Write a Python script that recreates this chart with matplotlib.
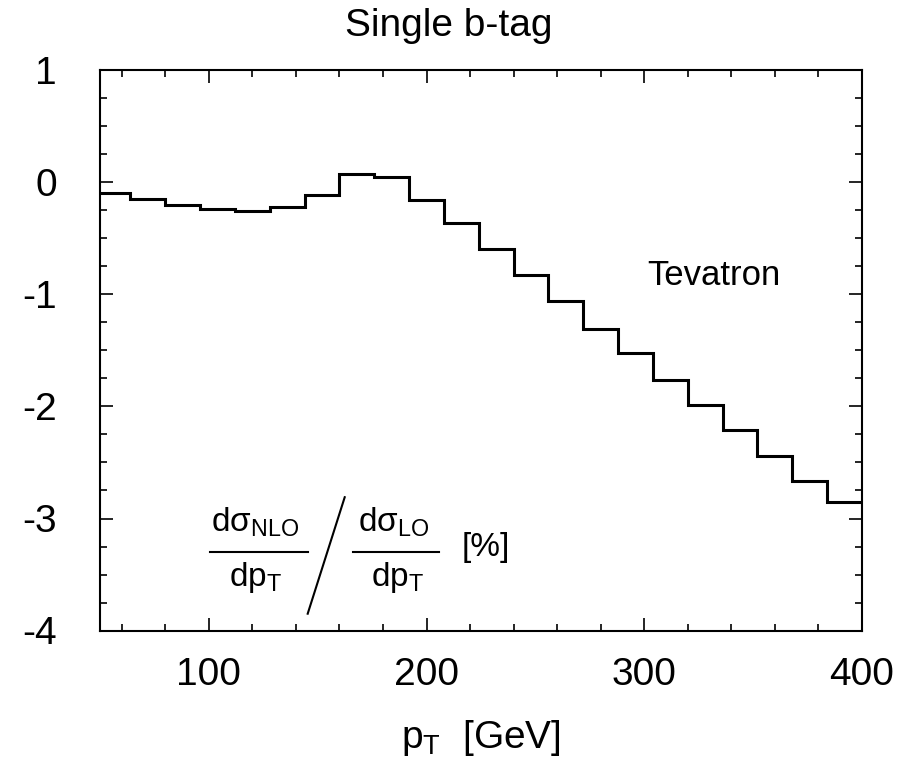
import numpy as np
import matplotlib
matplotlib.use("Agg")
import matplotlib.pyplot as plt
from matplotlib.ticker import MultipleLocator, FixedLocator

# ---- data ----
bin_edges = [48, 64, 80, 96, 112, 128, 144, 160, 176, 192, 208, 224, 240,
             256, 272, 288, 304, 320, 336, 352, 368, 384, 400]
ratio_pct = [-0.097, -0.151, -0.202, -0.240, -0.253, -0.217, -0.115, 0.075,
             0.046, -0.157, -0.366, -0.595, -0.828, -1.057, -1.310, -1.518,
             -1.766, -1.983, -2.206, -2.442, -2.664, -2.856]
x_ticks = [100, 200, 300, 400]
y_ticks = [1, 0, -1, -2, -3, -4]
y_ticklabels = ["1", "0", "-1", "-2", "-3", "-4"]
title = "Single b-tag"
label_text = "Tevatron"

plt.rcParams['font.family'] = ['Liberation Sans', 'DejaVu Sans']
plt.rcParams['mathtext.fontset'] = 'custom'
plt.rcParams['mathtext.rm'] = 'Liberation Sans'
plt.rcParams['mathtext.it'] = 'Liberation Sans'
plt.rcParams['mathtext.bf'] = 'Liberation Sans:bold'
plt.rcParams['axes.unicode_minus'] = False

fig = plt.figure(figsize=(9.05, 7.63), dpi=100)
ax = fig.add_axes([100/905, 1-630.5/763, 762/905, 560/763])

ax.stairs(ratio_pct, bin_edges, baseline=None, color='black', linewidth=2.2)

ax.set_xlim(50, 400)
ax.set_ylim(-4, 1)
ax.xaxis.set_major_locator(FixedLocator(x_ticks))
ax.xaxis.set_minor_locator(MultipleLocator(20))
ax.yaxis.set_major_locator(FixedLocator(y_ticks))
ax.set_yticklabels(y_ticklabels)
ax.yaxis.set_minor_locator(MultipleLocator(0.25))

for s in ax.spines.values():
    s.set_linewidth(1.5)
ax.tick_params(which='both', direction='in', top=True, right=True, width=1.2)
ax.tick_params(which='major', length=9.5, labelsize=28)
ax.tick_params(axis='y', which='major', pad=31)
ax.tick_params(axis='x', which='major', pad=19)
ax.tick_params(which='minor', length=4.8)

fig.text(449/905, 1-26/763, title, ha='center', va='center', fontsize=28)
ax.text(332, -0.917, label_text, ha='center', va='baseline', fontsize=25)
fig.text(481/905, 1-748/763, r'$\mathregular{p_T}$  [GeV]', ha='center',
         va='baseline', fontsize=28)

# ratio label
fs = 24
ax.text(121.5, -3.117, r'$\mathregular{d\sigma_{NLO}}$', ha='center', va='baseline', fontsize=fs)
ax.text(121.6, -3.60, r'$\mathregular{dp_T}$', ha='center', va='baseline', fontsize=fs)
ax.plot([100.5, 145.4], [-3.30, -3.30], color='black', lw=1.5)
ax.plot([162.4, 145.4], [-2.81, -3.85], color='black', lw=1.5)
ax.text(185, -3.117, r'$\mathregular{d\sigma_{LO}}$', ha='center', va='baseline', fontsize=fs)
ax.text(186.5, -3.60, r'$\mathregular{dp_T}$', ha='center', va='baseline', fontsize=fs)
ax.plot([166, 205.5], [-3.30, -3.30], color='black', lw=1.5)
ax.text(227, -3.26, '[%]', ha='center', va='center', fontsize=fs)

fig.savefig('out.png', dpi=100)
